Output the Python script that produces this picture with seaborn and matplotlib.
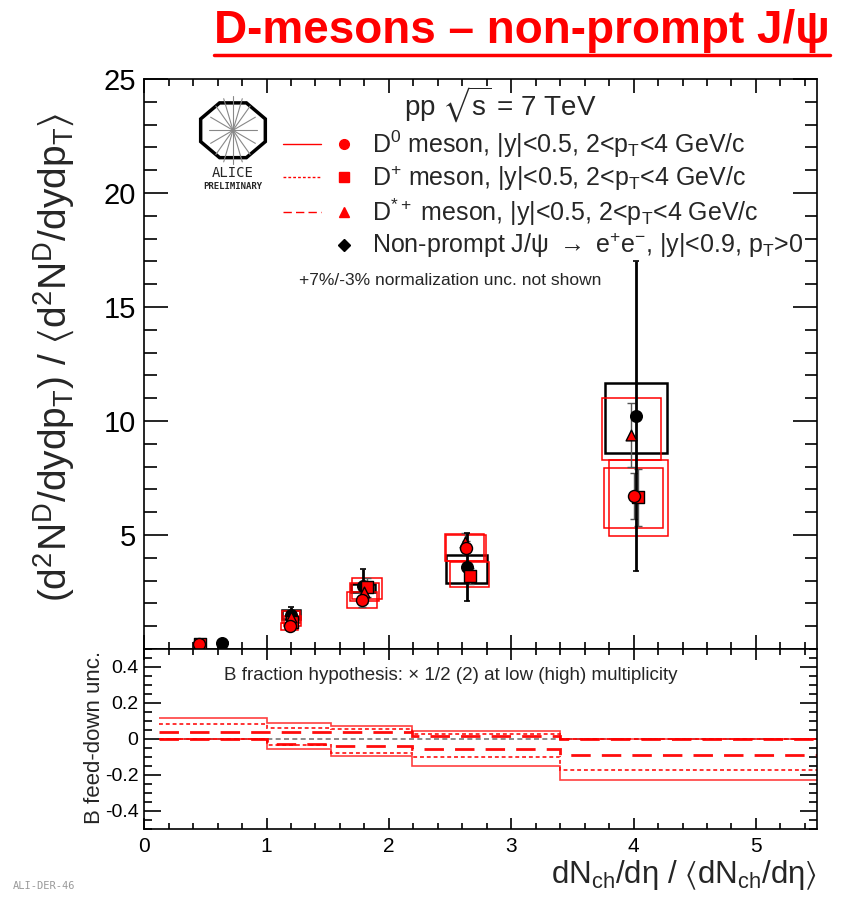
import numpy as np
import pandas as pd
import matplotlib
matplotlib.use("Agg")
import matplotlib.pyplot as plt
import seaborn as sns
from matplotlib.patches import Rectangle, RegularPolygon
from matplotlib.lines import Line2D
from matplotlib.legend_handler import HandlerTuple
from matplotlib.ticker import MultipleLocator

# ---------------- data ----------------
# relative multiplicity (x), relative yield (y), statistical error,
# systematic box (lo/hi) and box half-width in x
d0_x = [0.45, 1.19, 1.78, 2.63, 4.00]
d0_y = [0.20, 1.00, 2.15, 4.45, 6.70]
d0_stat = [0.05, 0.15, 0.30, 0.30, 1.00]
d0_sys_lo = [0.15, 0.85, 1.80, 3.85, 5.30]
d0_sys_hi = [0.25, 1.15, 2.50, 5.00, 7.95]

dplus_x = [0.46, 1.21, 1.82, 2.66, 4.04]
dplus_y = [0.20, 1.20, 2.70, 3.20, 6.65]
dplus_stat = [0.05, 0.20, 0.40, 0.35, 1.25]
dplus_sys_lo = [0.15, 1.00, 2.20, 2.70, 4.95]
dplus_sys_hi = [0.25, 1.45, 3.10, 3.80, 8.30]

dstar_x = [0.45, 1.20, 1.80, 2.62, 3.98]
dstar_y = [0.20, 1.40, 2.50, 4.70, 9.40]
dstar_stat = [0.05, 0.25, 0.50, 0.40, 1.40]
dstar_sys_lo = [0.15, 1.15, 2.10, 3.85, 8.30]
dstar_sys_hi = [0.25, 1.65, 2.90, 5.05, 11.00]

d_box_hw = [0.04, 0.07, 0.12, 0.16, 0.24]

jpsi_x = [0.64, 1.20, 1.79, 2.635, 4.02]
jpsi_y = [0.28, 1.50, 2.75, 3.60, 10.20]
jpsi_stat = [0.06, 0.35, 0.75, 1.50, 6.80]
jpsi_sys_lo = [0.24, 1.30, 2.50, 2.90, 8.60]
jpsi_sys_hi = [0.32, 1.70, 2.85, 4.10, 11.65]
jpsi_box_hw = [0.04, 0.07, 0.10, 0.165, 0.25]

# B feed-down uncertainty bands (per multiplicity bin)
fd_edges = [0.12, 1.0, 1.53, 2.19, 3.4, 5.5]
d0_fd_hi = [0.115, 0.090, 0.073, 0.045, 0.0]
d0_fd_lo = [0.0, -0.055, -0.095, -0.150, -0.230]
dplus_fd_hi = [0.085, 0.060, 0.055, 0.027, 0.0]
dplus_fd_lo = [0.0, -0.036, -0.080, -0.100, -0.170]
dstar_fd_hi = [0.040, 0.040, 0.040, 0.015, 0.0]
dstar_fd_lo = [0.0, -0.030, -0.040, -0.055, -0.090]

labels = [
    r"D$^{0}$ meson, |y|<0.5, 2<p$_{\rm T}$<4 GeV/c",
    r"D$^{+}$ meson, |y|<0.5, 2<p$_{\rm T}$<4 GeV/c",
    r"D$^{*+}$ meson, |y|<0.5, 2<p$_{\rm T}$<4 GeV/c",
    r"Non-prompt J/ψ $\rightarrow$ e$^{+}$e$^{-}$, |y|<0.9, p$_{\rm T}$>0",
]

# ---------------- style ----------------
sns.set_theme(style="ticks")
plt.rcParams["font.family"] = ["Liberation Sans", "DejaVu Sans"]
plt.rcParams.update({
    "mathtext.fontset": "custom",
    "mathtext.rm": "Liberation Sans",
    "mathtext.it": "Liberation Sans:italic",
    "mathtext.bf": "Liberation Sans:bold",
    "mathtext.sf": "Liberation Sans",
    "mathtext.fallback": "stixsans",
    "axes.linewidth": 1.2,
    "axes.edgecolor": "black",
})

fig = plt.figure(figsize=(8.48, 9.13), dpi=100)
ax = fig.add_axes([0.170, 0.2892, 0.7936, 0.6243])
axb = fig.add_axes([0.170, 0.0920, 0.7936, 0.1972], sharex=ax)

RED = "#ff0000"

# ---------------- top panel ----------------
def draw_boxes(xs, lo, hi, hw, color, lw):
    for xc, l, h, w in zip(xs, lo, hi, hw):
        ax.add_patch(Rectangle((xc - w, l), 2 * w, h - l, fill=False,
                               edgecolor=color, lw=lw, zorder=2))

draw_boxes(jpsi_x, jpsi_sys_lo, jpsi_sys_hi, jpsi_box_hw, "black", 1.8)
draw_boxes(d0_x, d0_sys_lo, d0_sys_hi, d_box_hw, RED, 1.1)
draw_boxes(dplus_x, dplus_sys_lo, dplus_sys_hi, d_box_hw, RED, 1.1)
draw_boxes(dstar_x, dstar_sys_lo, dstar_sys_hi, d_box_hw, RED, 1.1)

for xs, ys, es in [(d0_x, d0_y, d0_stat), (dplus_x, dplus_y, dplus_stat),
                   (dstar_x, dstar_y, dstar_stat)]:
    ax.errorbar(xs, ys, yerr=es, fmt="none", ecolor="#555555", elinewidth=1.0,
                capsize=3, capthick=1.0, zorder=3)
ax.errorbar(jpsi_x, jpsi_y, yerr=jpsi_stat, fmt="none", ecolor="black",
            elinewidth=2.0, capsize=2, capthick=1.2, zorder=3)

mk = dict(ax=ax, edgecolor="black", linewidth=1.0, zorder=5, legend=False)
sns.scatterplot(x=jpsi_x, y=jpsi_y, marker="o", s=70, color="black", **mk)
sns.scatterplot(x=dplus_x, y=dplus_y, marker="s", s=80, color=RED, **mk)
sns.scatterplot(x=dstar_x, y=dstar_y, marker="^", s=60, color=RED, **mk)
sns.scatterplot(x=d0_x, y=d0_y, marker="o", s=75, color=RED, **mk)

ax.set_xlim(0, 5.5)
ax.set_ylim(0, 25)
ax.yaxis.set_major_locator(MultipleLocator(5))
ax.yaxis.set_minor_locator(MultipleLocator(1))
ax.xaxis.set_major_locator(MultipleLocator(1))
ax.xaxis.set_minor_locator(MultipleLocator(0.2))
ax.set_yticks([5, 10, 15, 20, 25])
ax.tick_params(axis="both", which="both", direction="in", top=True, right=True,
               width=1.2, colors="black")
ax.tick_params(axis="y", which="major", length=17, labelsize=21, pad=6)
ax.tick_params(axis="y", which="minor", length=9)
ax.tick_params(axis="x", which="major", length=10, labelbottom=False)
ax.tick_params(axis="x", which="minor", length=5)
ax.set_xlabel("")
ax.set_ylabel("")

# legend: line sample + marker
def handle(ls, marker, lw):
    ln = Line2D([], [], color=RED, linestyle=ls, lw=lw)
    mk_ = Line2D([], [], color=RED, marker=marker, markersize=7,
                 markeredgecolor=RED, linestyle="none")
    return (ln, mk_)

handles = [
    handle("-", "o", 1.0),
    handle((0, (2, 1.5)), "s", 1.0),
    handle((0, (6, 3)), "^", 1.0),
    (Line2D([], [], linestyle="none"),
     Line2D([], [], color="black", marker="D", markersize=6, linestyle="none")),
]
leg = ax.legend(handles, labels, handler_map={tuple: HandlerTuple(ndivide=2, pad=0.2)},
                loc="upper left", bbox_to_anchor=(0.2065, 0.913), frameon=False,
                fontsize=18, handlelength=3.2, handletextpad=0.35,
                labelspacing=0.14, borderaxespad=0, borderpad=0)

ax.text(0.53, 0.954, r"pp $\sqrt{\rm s}$ = 7 TeV", transform=ax.transAxes,
        fontsize=20, ha="center", va="center")
ax.text(0.455, 0.647, "+7%/-3% normalization unc. not shown", transform=ax.transAxes,
        fontsize=12.5, ha="center", va="center")

# ALICE logo
lx, ly = 0.132, 0.91
logo = RegularPolygon((lx, ly), numVertices=8, radius=0.052,
                      orientation=np.pi / 8, transform=ax.transAxes,
                      facecolor="white", edgecolor="black", lw=2.5, zorder=6)
ax.add_patch(logo)
ang = np.linspace(0, np.pi, 9)[:-1]
for a in ang:
    ax.plot([lx - 0.036 * np.cos(a), lx + 0.036 * np.cos(a)],
            [ly - 0.060 * np.sin(a), ly + 0.060 * np.sin(a)],
            transform=ax.transAxes, color="#888888", lw=0.8, zorder=7)
ax.text(lx, 0.835, "ALICE", transform=ax.transAxes, fontsize=10,
        ha="center", va="center", family="DejaVu Sans Mono")
ax.text(lx, 0.812, "PRELIMINARY", transform=ax.transAxes, fontsize=6.5,
        ha="center", va="center", weight="bold", family="DejaVu Sans Mono")

# ---------------- bottom panel ----------------
axb.hlines(0, fd_edges[0], fd_edges[-1], colors="#777777", linestyles=(0, (3, 2)),
           lw=1.2, zorder=1)
for vals, ls, lw, alpha in [
    (d0_fd_hi, "-", 1.2, 0.75), (d0_fd_lo, "-", 1.2, 0.75),
    (dplus_fd_hi, (0, (2, 1.5)), 1.4, 0.8), (dplus_fd_lo, (0, (2, 1.5)), 1.4, 0.8),
    (dstar_fd_hi, (0, (7, 4)), 2.0, 0.95), (dstar_fd_lo, (0, (7, 4)), 2.0, 0.95),
]:
    axb.stairs(vals, fd_edges, baseline=None, color=RED, linestyle=ls, lw=lw,
               alpha=alpha, zorder=2)

axb.set_ylim(-0.5, 0.5)
axb.yaxis.set_major_locator(MultipleLocator(0.2))
axb.yaxis.set_minor_locator(MultipleLocator(0.05))
axb.set_yticks([-0.4, -0.2, 0, 0.2, 0.4])
axb.set_yticklabels(["-0.4", "-0.2", "0", "0.2", "0.4"])
axb.set_xticks([0, 1, 2, 3, 4, 5])
axb.set_xticklabels(["0", "1", "2", "3", "4", "5"])
axb.tick_params(axis="both", which="both", direction="in", top=True, right=True,
                width=1.2, colors="black")
axb.tick_params(axis="y", which="major", length=12, labelsize=14, pad=4)
axb.tick_params(axis="y", which="minor", length=6)
axb.tick_params(axis="x", which="major", length=8, labelsize=15, pad=6)
axb.tick_params(axis="x", which="minor", length=4)
axb.text(0.455, 0.85, "B fraction hypothesis: × 1/2 (2) at low (high) multiplicity",
         transform=axb.transAxes, fontsize=13.5, ha="center", va="center")

# ---------------- labels / title ----------------
fig.text(0.064, 0.609,
         r"(d$^{2}$N$^{\rm D}$/dydp$_{\rm T}$) / $\langle$d$^{2}$N$^{\rm D}$/dydp$_{\rm T}$$\rangle$",
         rotation=90, fontsize=28, ha="center", va="center")
fig.text(0.112, 0.192, "B feed-down unc.", rotation=90, fontsize=16,
         ha="center", va="center")
fig.text(0.963, 0.042,
         r"dN$_{\rm ch}$/dη / $\langle$dN$_{\rm ch}$/dη$\rangle$",
         fontsize=22.5, ha="right", va="center")
fig.text(0.015, 0.030, "ALI-DER-46", fontsize=7.5, color="#999999",
         family="DejaVu Sans Mono", ha="left", va="center")

title = fig.text(0.616, 0.966, "D-mesons – non-prompt J/ψ", fontsize=33,
                 weight="bold", color=RED, ha="center", va="center")
fig.canvas.draw()
bb = title.get_window_extent().transformed(fig.transFigure.inverted())
fig.add_artist(Line2D([bb.x0, bb.x1], [bb.y0 - 0.002, bb.y0 - 0.002],
                      color=RED, lw=2.5, transform=fig.transFigure))

fig.savefig("out.png", dpi=100, facecolor="white")
